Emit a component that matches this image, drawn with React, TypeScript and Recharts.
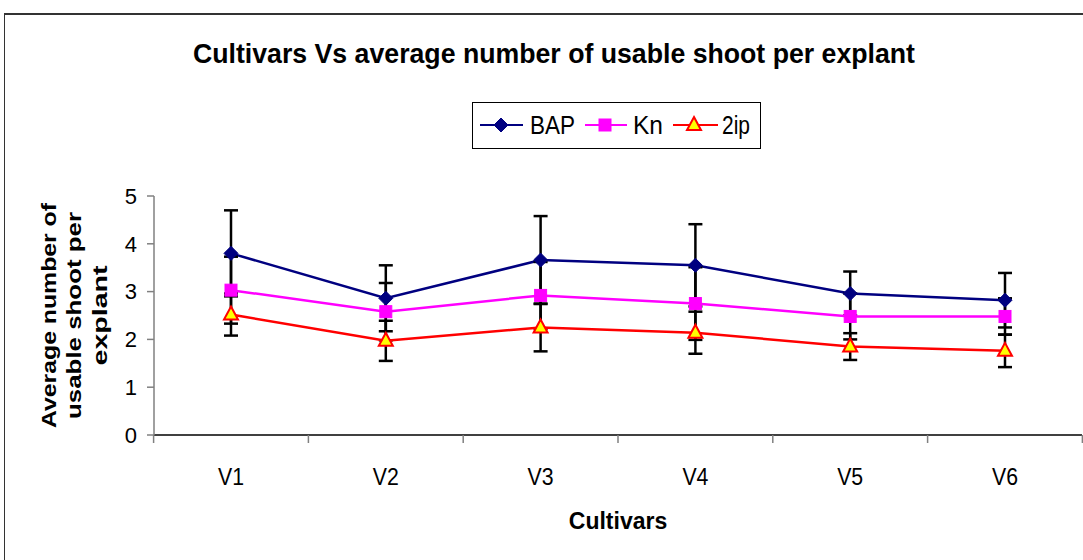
import { LineChart, Line, XAxis, YAxis, ErrorBar, Label } from 'recharts'

const CULTIVARS = ['V1', 'V2', 'V3', 'V4', 'V5', 'V6']
const BAP = [3.8, 2.86, 3.66, 3.55, 2.96, 2.82]
const BAP_ERR = [0.9, 0.69, 0.92, 0.86, 0.46, 0.57]
const KN = [3.03, 2.58, 2.92, 2.75, 2.48, 2.48]
const KN_ERR = [0.7, 0.6, 0.7, 0.76, 0.48, 0.38]
const TWO_IP = [2.52, 1.97, 2.25, 2.14, 1.85, 1.76]
const TWO_IP_ERR = [0.44, 0.42, 0.5, 0.44, 0.28, 0.34]
const Y_TICKS = [0, 1, 2, 3, 4, 5]

const FONT = '"Liberation Sans", Arial, sans-serif'

const data = CULTIVARS.map((name, i) => ({
	name,
	bap: BAP[i],
	bapErr: BAP_ERR[i],
	kn: KN[i],
	knErr: KN_ERR[i],
	twoIp: TWO_IP[i],
	twoIpErr: TWO_IP_ERR[i],
}))

// marker shapes, used by both the series and the legend
const Diamond = ({ cx, cy }: { cx: number; cy: number }) => (
	<polygon points={`${cx},${cy - 7} ${cx + 7},${cy} ${cx},${cy + 7} ${cx - 7},${cy}`} fill="#000080" stroke="#000080" />
)
const Square = ({ cx, cy }: { cx: number; cy: number }) => (
	<rect x={cx - 6} y={cy - 6} width={12} height={12} fill="#FF00FF" stroke="#FF00FF" />
)
const Triangle = ({ cx, cy }: { cx: number; cy: number }) => (
	<polygon points={`${cx},${cy - 8} ${cx + 7},${cy + 5} ${cx - 7},${cy + 5}`} fill="#FFFF00" stroke="#FF0000" strokeWidth={2} />
)

const SERIES = [
	{ key: 'bap', err: 'bapErr', name: 'BAP', color: '#000080', Marker: Diamond },
	{ key: 'kn', err: 'knErr', name: 'Kn', color: '#FF00FF', Marker: Square },
	{ key: 'twoIp', err: 'twoIpErr', name: '2ip', color: '#FF0000', Marker: Triangle },
]

const renderDot = (Marker: any) => (props: any) => {
	const { cx, cy, index } = props
	return <Marker key={`dot-${index}`} cx={cx} cy={cy} />
}

// category tick: label in the middle, tick marks on the band boundaries
const CategoryTick = (props: any) => {
	const { x, y, payload, index, width, visibleTicksCount } = props
	const step = (width - 154) / (visibleTicksCount - 1)
	const half = step / 2
	return (
		<g>
			<line x1={x - half} y1={y} x2={x - half} y2={y + 8} stroke="#808080" strokeWidth={1.5} />
			{index === visibleTicksCount - 1 && (
				<line x1={x + half} y1={y} x2={x + half} y2={y + 8} stroke="#808080" strokeWidth={1.5} />
			)}
			<text
				x={x}
				y={y + 50}
				textAnchor="middle"
				fontSize={24}
				fontFamily={FONT}
				textLength={26}
				lengthAdjust="spacingAndGlyphs"
				fill="#000"
			>
				{payload.value}
			</text>
		</g>
	)
}

const YTitle = (props: any) => {
	const { viewBox } = props
	const cy = viewBox.y + viewBox.height / 2
	const lines = [
		{ text: 'Average number of', x: 48, len: 225 },
		{ text: 'usable shoot per', x: 73, len: 207 },
		{ text: 'explant', x: 99, len: 100 },
	]
	return (
		<g>
			{lines.map(l => (
				<text
					key={l.text}
					x={l.x}
					y={cy}
					transform={`rotate(-90, ${l.x}, ${cy})`}
					textAnchor="middle"
					dominantBaseline="central"
					fontSize={21}
					fontWeight="bold"
					fontFamily={FONT}
					textLength={l.len}
					lengthAdjust="spacingAndGlyphs"
					fill="#000"
				>
					{l.text}
				</text>
			))}
		</g>
	)
}

const LegendBox = () => {
	const pos = [
		{ line: [8, 51], mark: 29, text: 58, len: 45 },
		{ line: [113, 155], mark: 133, text: 161, len: 30 },
		{ line: [201, 246], mark: 222, text: 250, len: 28 },
	]
	return (
		<div
			style={{
				position: 'absolute',
				left: 472,
				top: 102,
				width: 289,
				height: 47,
				boxSizing: 'border-box',
				border: '1.5px solid #000',
				background: '#fff',
			}}
		>
			<svg width={289} height={47} style={{ position: 'absolute', left: -1.5, top: -1.5 }}>
				{SERIES.map((s, i) => {
					const p = pos[i]
					const M = s.Marker
					return (
						<g key={s.key}>
							<line x1={p.line[0]} y1={23} x2={p.line[1]} y2={23} stroke={s.color} strokeWidth={2} />
							<M cx={p.mark} cy={23} />
							<text
								x={p.text}
								y={32}
								fontSize={25}
								fontFamily={FONT}
								textLength={p.len}
								lengthAdjust="spacingAndGlyphs"
								fill="#000"
							>
								{s.name}
							</text>
						</g>
					)
				})}
			</svg>
		</div>
	)
}

export default function App() {
	return (
		<div
			style={{
				position: 'absolute',
				left: 0,
				top: 0,
				width: 1083,
				height: 560,
				background: '#fff',
				overflow: 'hidden',
			}}
		>
			<div
				style={{
					position: 'absolute',
					left: 4,
					top: 13,
					width: 1200,
					height: 700,
					borderTop: '2px solid #333',
					borderLeft: '1px solid #333',
				}}
			/>
			<svg width={1083} height={90} style={{ position: 'absolute', left: 0, top: 0 }}>
				<text
					x={554}
					y={63}
					textAnchor="middle"
					fontSize={27}
					fontWeight="bold"
					fontFamily={FONT}
					textLength={722}
					lengthAdjust="spacingAndGlyphs"
					fill="#000"
				>
					Cultivars Vs average number of usable shoot per explant
				</text>
			</svg>
			<LegendBox />
			<div style={{ position: 'absolute', left: 0, top: 0 }}>
				<LineChart width={1083} height={560} data={data} margin={{ top: 196, right: 1, bottom: 0, left: 94 }}>
					<XAxis
						dataKey="name"
						height={125}
						padding={{ left: 77, right: 77 }}
						tickSize={0}
						tickMargin={0}
						tickLine={false}
						interval={0}
						axisLine={{ stroke: '#000', strokeWidth: 1.5 }}
						tick={<CategoryTick />}
					>
						<Label
							value="Cultivars"
							position="insideBottom"
							offset={31}
							fontSize={23}
							fontWeight="bold"
							fontFamily={FONT}
							fill="#000"
						/>
					</XAxis>
					<YAxis
						width={60}
						domain={[0, 5]}
						ticks={Y_TICKS}
						interval={0}
						tickSize={7}
						tickMargin={10}
						axisLine={{ stroke: '#808080', strokeWidth: 1.5 }}
						tickLine={{ stroke: '#808080', strokeWidth: 1.5 }}
						tick={{ fontSize: 22, fontFamily: FONT, fill: '#000' }}
					>
						<Label content={<YTitle />} />
					</YAxis>
					{SERIES.map(s => (
						<Line
							key={s.key}
							dataKey={s.key}
							name={s.name}
							type="linear"
							stroke={s.color}
							strokeWidth={2.5}
							dot={renderDot(s.Marker)}
							activeDot={false}
							isAnimationActive={false}
						>
							<ErrorBar dataKey={s.err} direction="y" width={7} stroke="#000" strokeWidth={2.5} />
						</Line>
					))}
				</LineChart>
			</div>
		</div>
	)
}
